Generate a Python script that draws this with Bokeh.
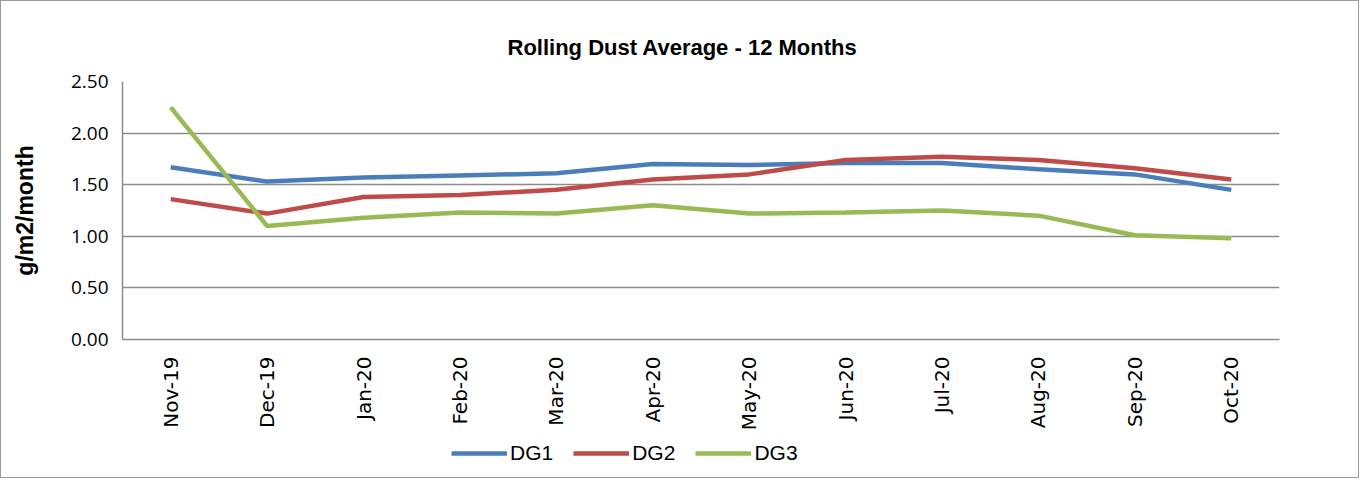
from bokeh.plotting import figure
from bokeh.layouts import column
from bokeh.models import FactorRange, Range1d, FixedTicker, NumeralTickFormatter, Legend, LegendItem
from bokeh.embed import file_html
from bokeh.resources import INLINE
import math

months = ["Nov-19", "Dec-19", "Jan-20", "Feb-20", "Mar-20", "Apr-20",
          "May-20", "Jun-20", "Jul-20", "Aug-20", "Sep-20", "Oct-20"]
dg1 = [1.67, 1.53, 1.57, 1.59, 1.61, 1.70, 1.69, 1.71, 1.71, 1.65, 1.60, 1.45]
dg2 = [1.36, 1.22, 1.38, 1.40, 1.45, 1.55, 1.60, 1.74, 1.77, 1.74, 1.66, 1.55]
dg3 = [2.25, 1.10, 1.18, 1.23, 1.22, 1.30, 1.22, 1.23, 1.25, 1.20, 1.01, 0.98]
series_names = ["DG1", "DG2", "DG3"]
colors = ["#4a7ebb", "#be4b48", "#98b954"]
y_ticks = [0.0, 0.5, 1.0, 1.5, 2.0, 2.5]

p = figure(width=1357, height=436, x_range=FactorRange(*months), y_range=Range1d(0, 2.5),
           output_backend="svg", toolbar_location=None,
           min_border_left=121, min_border_right=79, min_border_top=80, min_border_bottom=98)
p.outline_line_color = None
p.background_fill_color = "white"
p.border_fill_color = "white"

p.title.text = "Rolling Dust Average - 12 Months"
p.title.align = "left"
p.title.offset = 385
p.title.text_font = "Liberation Sans"
p.title.text_font_size = "22px"
p.title.text_font_style = "bold"
p.title.text_color = "black"
p.title.standoff = 44

p.xgrid.grid_line_color = None
p.ygrid.grid_line_color = "#8c8c8c"
p.ygrid.grid_line_width = 1.5
p.ygrid.ticker = FixedTicker(ticks=y_ticks)

p.yaxis.ticker = FixedTicker(ticks=y_ticks)
p.yaxis.formatter = NumeralTickFormatter(format="0.00")
p.yaxis.axis_label = "g/m2/month"
p.yaxis.axis_label_text_font = "Liberation Sans"
p.yaxis.axis_label_text_font_size = "23px"
p.yaxis.axis_label_text_font_style = "bold"
p.yaxis.axis_label_text_color = "black"
p.yaxis.axis_label_standoff = 30
p.yaxis.major_label_text_font = "Open Sans"
p.yaxis.major_label_text_font_size = "19px"
p.yaxis.major_label_text_color = "black"
p.yaxis.major_label_standoff = 14

for ax in (p.xaxis, p.yaxis):
    ax.axis_line_color = "#8c8c8c"
    ax.axis_line_width = 1.5
    ax.major_tick_line_color = None
    ax.minor_tick_line_color = None
    ax.major_tick_out = 0
    ax.major_tick_in = 0

p.xaxis.major_label_orientation = math.pi / 2
p.xaxis.major_label_text_font = "DejaVu Sans"
p.xaxis.major_label_text_font_size = "20px"
p.xaxis.major_label_text_color = "black"
p.xaxis.major_label_standoff = 17

for vals, c in zip([dg1, dg2, dg3], colors):
    p.line(months, vals, line_color=c, line_width=4.5)

# legend strip below the chart (legend-only renderers, no visible data)
lg = figure(width=1357, height=40, x_range=Range1d(0, 1), y_range=Range1d(0, 1),
            output_backend="svg", toolbar_location=None,
            x_axis_type=None, y_axis_type=None, min_border=0)
lg.outline_line_color = None
lg.xgrid.grid_line_color = None
lg.ygrid.grid_line_color = None
items = []
for name, c in zip(series_names, colors):
    r = lg.line(x=[float("nan")], y=[float("nan")], line_color=c, line_width=4.5)
    items.append(LegendItem(label=name, renderers=[r], index=0))
legend = Legend(items=items, orientation="horizontal", location=(329, 12),
                glyph_width=56, glyph_height=22, label_standoff=3, spacing=20,
                padding=0, margin=0, border_line_color=None, background_fill_alpha=0,
                label_text_font="Liberation Sans", label_text_font_size="21px",
                label_text_color="black")
lg.add_layout(legend, "center")

layout = column(p, lg, spacing=0)
layout.styles = {"border": "1px solid #9a9a9a"}

open("out.html", "w").write(file_html(layout, INLINE))
